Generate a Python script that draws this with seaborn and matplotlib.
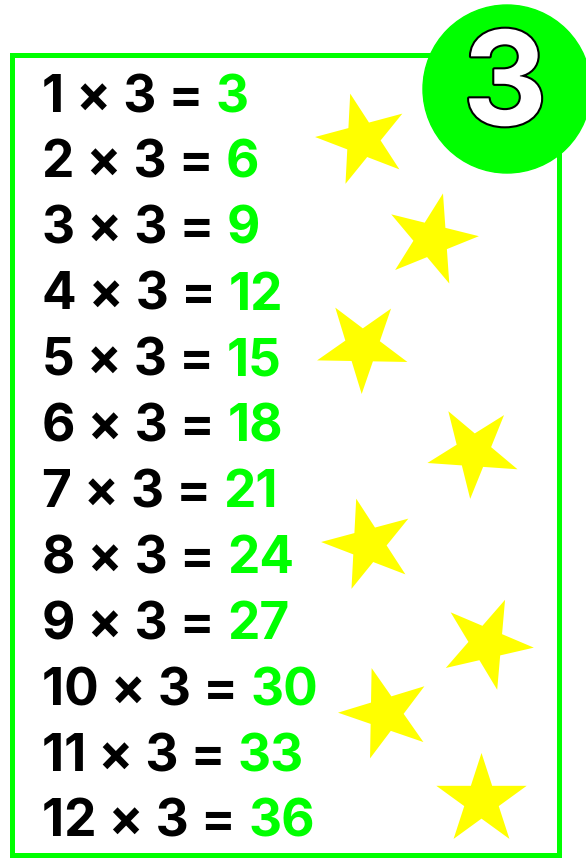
import matplotlib
matplotlib.use('Agg')
import matplotlib.pyplot as plt
import matplotlib.patheffects as pe
import seaborn as sns
from matplotlib.markers import MarkerStyle
from matplotlib.transforms import Affine2D
from matplotlib.patches import Rectangle, Circle

# tabla del 3
factores = [1, 2, 3, 4, 5, 6, 7, 8, 9, 10, 11, 12]
multiplicador = 3
productos = [3, 6, 9, 12, 15, 18, 21, 24, 27, 30, 33, 36]

VERDE = '#00ff00'
AMARILLO = '#ffff00'

# estrellas decorativas (en pixeles) y su giro en grados
estrellas_x = [362, 431, 362, 473, 368, 486, 385, 481]
estrellas_y = [139, 239, 346, 451, 544, 643, 713, 800]
estrellas_giro = [15, -14, 35, 32, 15, -23, 17, 0]

sns.set_theme(style='white')
plt.rcParams['font.family'] = ['Inter', 'DejaVu Sans']

fig = plt.figure(figsize=(5.86, 8.59), dpi=100)

# capa de fondo: marco, estrellas y circulo
fondo = fig.add_axes([0, 0, 1, 1])
fondo.add_patch(Rectangle((11.5, 55), 547.5, 800, fill=False, ec=VERDE, lw=3.6, zorder=1))

for x, y, giro in zip(estrellas_x, estrellas_y, estrellas_giro):
    estrella = MarkerStyle('*', transform=Affine2D().rotate_deg(giro))
    sns.scatterplot(x=[x], y=[y], marker=estrella, s=4680, color=AMARILLO,
                    linewidth=0, ax=fondo, zorder=2)

fondo.add_patch(Circle((507, 89), 84, color=VERDE, zorder=3))
fondo.text(505, 125, str(multiplicador), fontsize=94, fontweight='bold', color='white',
           ha='center', va='baseline', zorder=4,
           path_effects=[pe.withStroke(linewidth=3, foreground='black')])
fondo.set_xlim(0, 586)
fondo.set_ylim(859, 0)
fondo.axis('off')

# capa de la tabla: eje y = factor
tabla = fig.add_axes([0, 0, 1, 1])
tabla.set_facecolor('none')
for f, p in zip(factores, productos):
    t = tabla.text(42, f, f'{f} × {multiplicador} =', fontsize=37, fontweight='bold',
                   color='black', va='baseline', ha='left')
    tabla.annotate(str(p), xy=(1, 0), xycoords=t, xytext=(9, 0), textcoords='offset points',
                   fontsize=37, fontweight='bold', color=VERDE, va='bottom', ha='left')
tabla.set_xlim(0, 586)
tabla.set_ylim(12.335, -0.6995)
tabla.axis('off')

fig.savefig('out.png', dpi=100)
